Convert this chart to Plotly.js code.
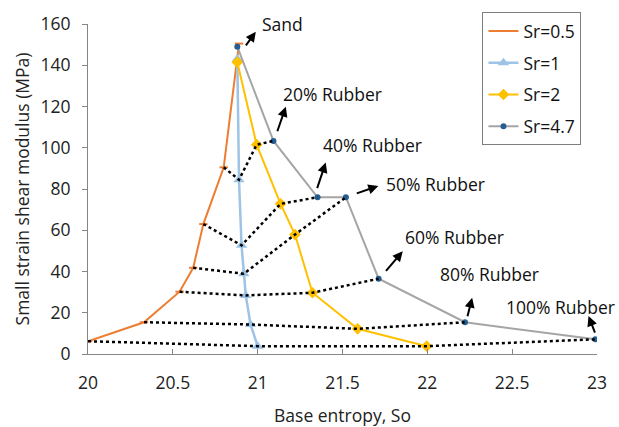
<!DOCTYPE html>
<html>
<head>
<meta charset="utf-8">
<script src="https://cdn.plot.ly/plotly-3.0.1.min.js"></script>
<style>html,body{margin:0;padding:0;background:#fff;}#chart{width:619px;height:427px;}</style>
</head>
<body>
<div id="chart"></div>
<script>
// Rubber content levels (Sand = 0%)
const rubberLevels = ["Sand", "20% Rubber", "40% Rubber", "50% Rubber", "60% Rubber", "80% Rubber", "100% Rubber"];

// Sr = 0.5
const sr05X = [20.89, 20.80, 20.68, 20.62, 20.54, 20.33, 20.00];
const sr05Y = [150.5, 90.5, 63.0, 41.8, 30.2, 15.4, 6.2];
// Sr = 1
const sr1X = [20.88, 20.89, 20.905, 20.918, 20.93, 20.958, 21.00];
const sr1Y = [143.0, 84.5, 52.7, 38.9, 28.4, 14.3, 3.8];
// Sr = 2
const sr2X = [20.88, 20.994, 21.135, 21.22, 21.323, 21.589, 21.996];
const sr2Y = [141.5, 101.5, 72.8, 57.9, 29.7, 12.2, 3.8];
// Sr = 4.7
const sr47X = [20.88, 21.093, 21.353, 21.52, 21.713, 22.222, 22.99];
const sr47Y = [149.0, 103.3, 76.0, 76.0, 36.5, 15.4, 7.1];

const seriesNames = ["Sr=0.5", "Sr=1", "Sr=2", "Sr=4.7"];

const FONT = '"Open Sans", Lato, sans-serif';
const FS = 17.5;

const traces = [];
traces.push({x: sr05X, y: sr05Y, name: seriesNames[0], type: 'scatter', mode: 'lines+markers',
  line: {color: '#ED7D31', width: 2}, marker: {symbol: 'line-ew', size: 6, color: '#ED7D31', line: {color: '#ED7D31', width: 2}},
  legendgroup: 'a'});
traces.push({x: sr1X, y: sr1Y, name: seriesNames[1], type: 'scatter', mode: 'lines+markers',
  line: {color: '#9DC3E6', width: 2.5}, marker: {symbol: 'triangle-up', size: 10, color: '#9DC3E6'},
  legendgroup: 'b'});
traces.push({x: sr2X, y: sr2Y, name: seriesNames[2], type: 'scatter', mode: 'lines+markers',
  line: {color: '#FFC000', width: 2}, marker: {symbol: 'diamond', size: 9, color: '#FFC000'},
  legendgroup: 'c'});
traces.push({x: sr47X, y: sr47Y, name: seriesNames[3], type: 'scatter', mode: 'lines+markers',
  line: {color: '#A5A5A5', width: 2}, marker: {symbol: 'circle', size: 6, color: '#255E91'},
  legendgroup: 'd'});

// dotted iso-rubber lines connecting the Sr series at each rubber content (not Sand)
for (let i = 1; i < rubberLevels.length; i++) {
  traces.push({
    x: [sr05X[i], sr1X[i], sr2X[i], sr47X[i]],
    y: [sr05Y[i], sr1Y[i], sr2Y[i], sr47Y[i]],
    type: 'scatter', mode: 'lines', showlegend: false, hoverinfo: 'skip',
    line: {color: '#000000', width: 2.5, dash: 'dot'}
  });
}

const labelFont = {family: FONT, size: FS, color: '#111'};
function label(text, x, y) {
  return {text: text, x: x, y: y, xref: 'x', yref: 'y', showarrow: false, xanchor: 'left', yanchor: 'middle', font: labelFont};
}
function arrow(x, y, ax, ay) {
  return {text: '', x: x, y: y, xref: 'x', yref: 'y', ax: ax, ay: ay, showarrow: true,
    arrowhead: 2, arrowsize: 1, arrowwidth: 2, arrowcolor: '#000', standoff: 0, startstandoff: 0};
}

const annotations = [
  {text: rubberLevels[0], x: 21.012, y: 1.0, xref: 'x', yref: 'paper', showarrow: false, xanchor: 'left', yanchor: 'middle', font: labelFont},
  arrow(20.989, 156.2, -11, 15),
  label(rubberLevels[1], 21.140, 126.1), arrow(21.166, 119.9, -9, 26),
  label(rubberLevels[2], 21.372, 101.5), arrow(21.401, 92.8, -9, 27),
  label(rubberLevels[3], 21.745, 82.4), arrow(21.711, 81.5, -23, 8),
  label(rubberLevels[4], 21.854, 56.6), arrow(21.855, 49.8, -18, 21),
  label(rubberLevels[5], 22.060, 39.0), arrow(22.264, 27.3, -5, 20),
  label(rubberLevels[6], 22.450, 22.9), arrow(22.950, 18.4, 7, 18)
];

const layout = {
  width: 619, height: 427,
  margin: {l: 88, r: 22, t: 24, b: 73},
  paper_bgcolor: '#fff', plot_bgcolor: '#fff',
  font: {family: FONT, size: FS, color: '#222'},
  showlegend: true,
  legend: {x: 0.775, y: 1.036, xanchor: 'left', yanchor: 'top', bordercolor: '#7f7f7f', borderwidth: 1,
    bgcolor: '#fff', font: {family: FONT, size: FS, color: '#111'}, traceorder: 'grouped', tracegroupgap: 6, itemwidth: 30},
  xaxis: {range: [20, 23], dtick: 0.5, tick0: 20, showgrid: false, zeroline: false,
    showline: true, linecolor: '#868686', linewidth: 1, ticks: 'inside', ticklen: 5, tickcolor: '#868686',
    tickfont: {family: FONT, size: FS, color: '#222'}, ticklabelstandoff: 13,
    title: {text: 'Base entropy, So', font: {family: FONT, size: FS, color: '#222'}, standoff: 18}},
  yaxis: {range: [0, 160], dtick: 20, showgrid: false, zeroline: false,
    showline: true, linecolor: '#868686', linewidth: 1, ticks: 'outside', ticklen: 5, tickcolor: '#868686',
    tickfont: {family: FONT, size: FS, color: '#222'}, ticklabelstandoff: 8,
    title: {text: 'Small strain shear modulus (MPa)', font: {family: FONT, size: FS, color: '#222'}, standoff: 6}},
  annotations: annotations
};

Plotly.newPlot('chart', traces, layout, {displayModeBar: false, staticPlot: true});
</script>
</body>
</html>
